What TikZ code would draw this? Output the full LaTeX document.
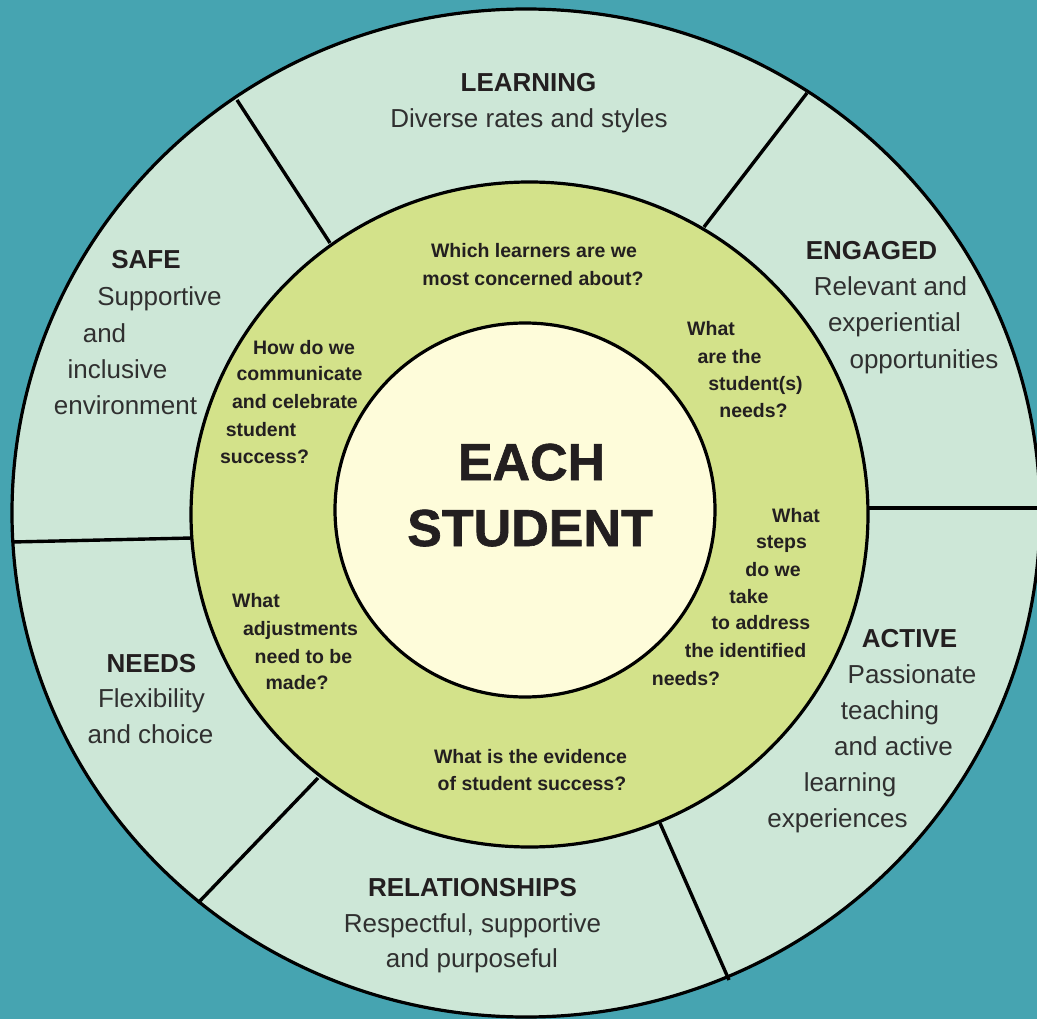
\documentclass[tikz,border=0pt]{standalone}
\usepackage{fontspec}
\setmainfont{Liberation Sans}
\newfontfamily\heavyfont[FakeBold=1.2]{Liberation Sans}
\usepackage{xcolor}
\definecolor{seabg}{HTML}{46A4B1}
\definecolor{mintring}{HTML}{CDE7D7}
\definecolor{limering}{HTML}{D3E28A}
\definecolor{creamcore}{HTML}{FEFCDA}
\definecolor{inkdark}{HTML}{231F20}
\definecolor{inkgray}{HTML}{303030}

\begin{document}
\begin{tikzpicture}[x=1pt, y=-1pt]
    % ================= styles =================
    \tikzset{
        % ring outlines
        rim/.style={draw=black, line width=3.2pt},
        % spokes between the sectors of the outer ring
        divider/.style={black, line width=3.4pt},
        % texts of the outer ring
        headtxt/.style={anchor=base, inner sep=0pt, text=inkdark, font=\fontsize{26}{30}\selectfont\bfseries},
        bodytxt/.style={anchor=base, inner sep=0pt, text=inkgray, font=\fontsize{26}{30}\selectfont},
        % questions of the green ring
        asktxt/.style={anchor=base, inner sep=0pt, text=inkdark, font=\fontsize{19.5}{23}\selectfont\bfseries},
        % centre
        coretxt/.style={anchor=base, inner sep=0pt, text=inkdark, font=\fontsize{52}{60}\heavyfont\bfseries}
    }

    \useasboundingbox (0,0) rectangle (1037,1019);
    \fill[seabg] (0,0) rectangle (1037,1019);
    \clip (0,0) rectangle (1037,1019);

    % ================= 1. rings and spokes =================
    \filldraw[rim, fill=mintring] (526,513) ellipse [x radius=514, y radius=504];

    % spoke end points: o = outer rim, g = green ring
    \coordinate (o1) at (237,100);  \coordinate (g1) at (330,243);
    \coordinate (o2) at (807,93);   \coordinate (g2) at (704,227);
    \coordinate (o3) at (1045,508); \coordinate (g3) at (866,508);
    \coordinate (o4) at (729,980);  \coordinate (g4) at (660,823);
    \coordinate (o5) at (198,903);  \coordinate (g5) at (318,778);
    \coordinate (o6) at (12,542);   \coordinate (g6) at (192,538);
    \foreach \i in {1,...,6} \draw[divider] (g\i) -- (o\i);

    \filldraw[rim, fill=limering] (529.5,514.5) ellipse [x radius=338.5, y radius=332.5];
    \filldraw[rim, fill=creamcore] (525,510) ellipse [x radius=190, y radius=187];

    % ================= 2. outer ring texts =================
    \node[headtxt] (learn) at (528.5,92) {LEARNING};
    \node[bodytxt] (learn1) at (529,128) {Diverse rates and styles};

    \node[headtxt] (engage) at (871.5,260) {ENGAGED};
    \foreach \x/\y/\t [count=\i] in {890.5/296/Relevant and, 894.5/332/experiential, 924/368/opportunities}
        \node[bodytxt] (engage\i) at (\x,\y) {\t};

    \node[headtxt] (active) at (909.5,647) {ACTIVE};
    \foreach \x/\y/\t [count=\i] in {912/683/Passionate, 890/719/teaching, 893.5/755/and active,
                                     850/791/learning, 837.5/827/experiences}
        \node[bodytxt] (active\i) at (\x,\y) {\t};

    \node[headtxt] (relate) at (472.5,896) {RELATIONSHIPS};
    \foreach \x/\y/\t [count=\i] in {472.5/932/{Respectful, supportive}, 472/967/and purposeful}
        \node[bodytxt] (relate\i) at (\x,\y) {\t};

    \node[headtxt] (needs) at (151.5,672) {NEEDS};
    \foreach \x/\y/\t [count=\i] in {151.5/707/Flexibility, 150.5/743/and choice}
        \node[bodytxt] (needs\i) at (\x,\y) {\t};

    \node[headtxt] (safe) at (146,269) {SAFE};
    \foreach \x/\y/\t [count=\i] in {159.5/306/Supportive, 104.5/342/and, 117.5/378/inclusive, 125.5/414/environment}
        \node[bodytxt] (safe\i) at (\x,\y) {\t};

    % ================= 3. questions of the green ring =================
    \foreach \x/\y/\t [count=\i] in {534/258/Which learners are we, 533/286/most concerned about?}
        \node[asktxt] (askA\i) at (\x,\y) {\t};
    \foreach \x/\y/\t [count=\i] in {711/336/What, 729.5/363/are the, 755.5/390/student(s), 753.5/417/needs?}
        \node[asktxt] (askB\i) at (\x,\y) {\t};
    \foreach \x/\y/\t [count=\i] in {796/522/What, 781.5/548/steps, 773/576/do we, 749/603/take,
                                     761/629/to address, 745.5/657/the identified, 686/685/needs?}
        \node[asktxt] (askC\i) at (\x,\y) {\t};
    \foreach \x/\y/\t [count=\i] in {530.5/763/What is the evidence, 532/790/of student success?}
        \node[asktxt] (askD\i) at (\x,\y) {\t};
    \foreach \x/\y/\t [count=\i] in {256/607/What, 300.5/635/adjustments, 303.5/663/need to be, 297/689/made?}
        \node[asktxt] (askE\i) at (\x,\y) {\t};
    \foreach \x/\y/\t [count=\i] in {304/354/How do we, 299.5/381/communicate, 295/408/and celebrate,
                                     261/436/student, 264.5/463/success?}
        \node[asktxt] (askF\i) at (\x,\y) {\t};

    % ================= 4. centre =================
    \node[coretxt] (each) at (531.5,480) {EACH};
    \node[coretxt] (student) at (530,546) {STUDENT};
\end{tikzpicture}
\end{document}
